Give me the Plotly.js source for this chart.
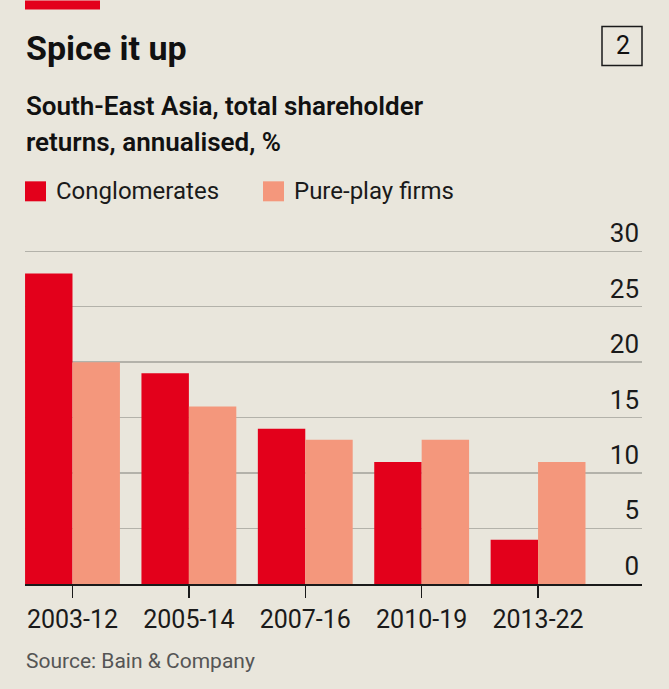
<!DOCTYPE html>
<html>
<head>
<meta charset="utf-8">
<script src="https://cdn.plot.ly/plotly-3.0.1.min.js"></script>
<style>
html,body{margin:0;padding:0;background:#e9e6dc;}
#chart{width:669px;height:689px;}
</style>
</head>
<body>
<div id="chart"></div>
<script>
const categories = ["2003-12", "2005-14", "2007-16", "2010-19", "2013-22"];
const conglomerates = [28, 19, 14, 11, 4];
const purePlay = [20, 16, 13, 13, 11];
const yTicks = [0, 5, 10, 15, 20, 25, 30];
const seriesNames = ["Conglomerates", "Pure-play firms"];

const W = 669, H = 689;
const YMAX = 33;
const UNIT = (584 - 251) / 30;
const L = 25, R = 642, B = 584, T = B - YMAX * UNIT;
const FONT = "Roboto, 'Noto Sans', sans-serif";
const px = x => (x - L) / (R - L);
const py = y => (B - y) / (B - T);

const RED = "#e3001b", PINK = "#f4977c", BG = "#e9e6dc";

const traces = [
  {type: "bar", name: seriesNames[0], x: categories, y: conglomerates,
   marker: {color: RED}, hoverinfo: "skip"},
  {type: "bar", name: seriesNames[1], x: categories, y: purePlay,
   marker: {color: PINK}, hoverinfo: "skip"}
];

const layout = {
  width: W, height: H,
  margin: {l: L, r: W - R, t: T, b: H - B, pad: 0},
  paper_bgcolor: BG, plot_bgcolor: BG,
  showlegend: false,
  barmode: "group", bargap: 0.185, bargroupgap: 0,
  font: {family: FONT, color: "#1a1a1a"},
  xaxis: {
    type: "category", range: [-0.408, 4.893],
    showline: true, linecolor: "#1a1a1a", linewidth: 1.5,
    ticks: "outside", ticklen: 12, tickwidth: 1.5, tickcolor: "#1a1a1a",
    tickfont: {size: 25, family: FONT, color: "#1a1a1a"},
    showgrid: false, zeroline: false, fixedrange: true
  },
  yaxis: {
    side: "right", range: [0, YMAX], tickvals: yTicks,
    ticktext: yTicks.map(String),
    ticklabelposition: "inside top",
    tickfont: {size: 26, family: FONT, color: "#1a1a1a"},
    showgrid: true, gridcolor: "#b3b2aa", gridwidth: 1.5,
    zeroline: false, showline: false, ticks: "", fixedrange: true
  },
  shapes: [
    {type: "rect", xref: "paper", yref: "paper", x0: px(25), x1: px(100), y0: py(0), y1: py(9),
     fillcolor: RED, line: {width: 0}},
    {type: "rect", xref: "paper", yref: "paper", x0: px(602), x1: px(642), y0: py(26), y1: py(65),
     fillcolor: "rgba(0,0,0,0)", line: {color: "#1a1a1a", width: 1.5}},
    {type: "rect", xref: "paper", yref: "paper", x0: px(25), x1: px(46), y0: py(181), y1: py(201),
     fillcolor: RED, line: {width: 0}},
    {type: "rect", xref: "paper", yref: "paper", x0: px(263), x1: px(284), y0: py(181), y1: py(201),
     fillcolor: PINK, line: {width: 0}}
  ],
  annotations: [
    {text: "<b>Spice it up</b>", xref: "paper", yref: "paper", x: px(24), y: py(48),
     xanchor: "left", yanchor: "middle", showarrow: false,
     font: {size: 34, family: FONT, color: "#111"}},
    {text: "2", xref: "paper", yref: "paper", x: px(622.5), y: py(45.5),
     xanchor: "center", yanchor: "middle", showarrow: false,
     font: {size: 25, family: FONT, color: "#111"}},
    {text: "South-East Asia, total shareholder", xref: "paper", yref: "paper",
     x: px(24), y: py(106), xanchor: "left", yanchor: "middle", align: "left", showarrow: false,
     font: {size: 26, family: FONT, color: "#111", weight: 600}},
    {text: "returns, annualised, %", xref: "paper", yref: "paper",
     x: px(24), y: py(142), xanchor: "left", yanchor: "middle", align: "left", showarrow: false,
     font: {size: 26, family: FONT, color: "#111", weight: 600}},
    {text: seriesNames[0], xref: "paper", yref: "paper", x: px(54), y: py(191),
     xanchor: "left", yanchor: "middle", showarrow: false,
     font: {size: 24, family: FONT, color: "#1a1a1a"}},
    {text: seriesNames[1], xref: "paper", yref: "paper", x: px(292), y: py(191),
     xanchor: "left", yanchor: "middle", showarrow: false,
     font: {size: 24, family: FONT, color: "#1a1a1a"}},
    {text: "Source: Bain & Company", xref: "paper", yref: "paper", x: px(24), y: py(661),
     xanchor: "left", yanchor: "middle", showarrow: false,
     font: {size: 21, family: FONT, color: "#555"}}
  ]
};

Plotly.newPlot("chart", traces, layout, {displayModeBar: false, staticPlot: true});
</script>
</body>
</html>
